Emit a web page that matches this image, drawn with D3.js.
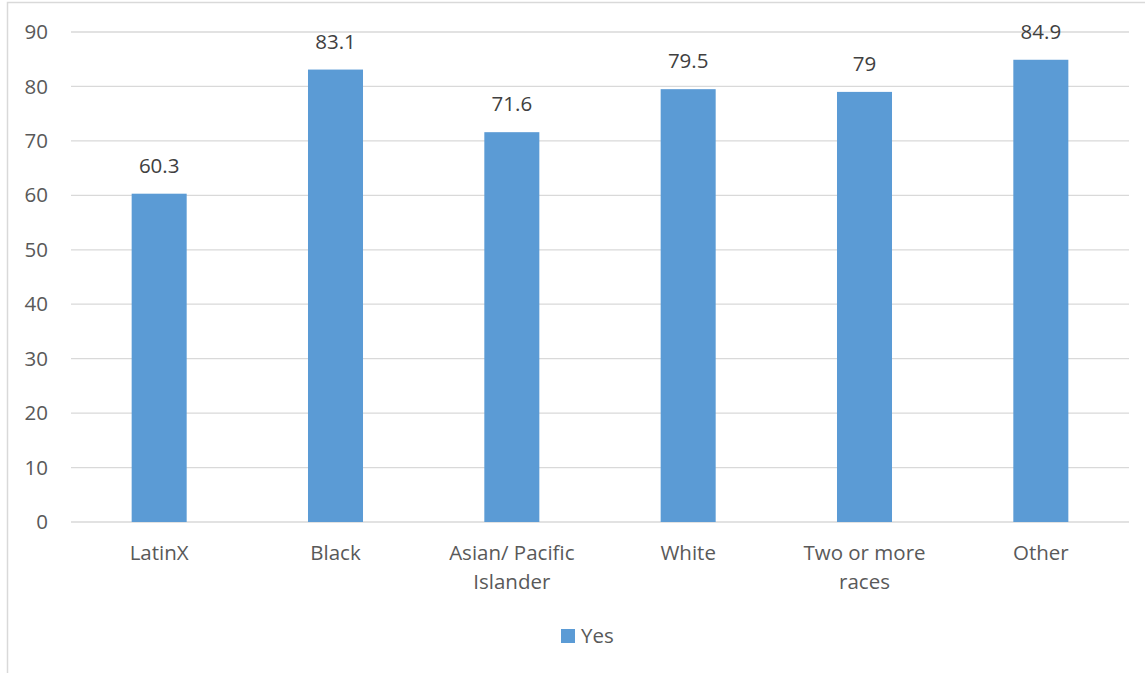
<!DOCTYPE html>
<html><head><meta charset="utf-8">
<script src="https://cdn.jsdelivr.net/npm/d3@7"></script>
<style>body{margin:0;background:#fff;}svg{display:block;font-family:"Open Sans",sans-serif;}</style>
</head><body><svg id="c" width="1145" height="673"></svg>
<script>
const categories = [["LatinX"],["Black"],["Asian/ Pacific","Islander"],["White"],["Two or more","races"],["Other"]];
const values = [60.3, 83.1, 71.6, 79.5, 79, 84.9];
const yTicks = [0,10,20,30,40,50,60,70,80,90];
const seriesName = "Yes";

(function(){
const svg = d3.select("#c");
const W=1145,H=673, fs=20.5;
svg.append("rect").attr("x",7.5).attr("y",2.5).attr("width",W+10).attr("height",H+10).attr("fill","#fff").attr("stroke","#d9d9d9").attr("stroke-width",1.5);

const pl=71,pr=1129,pt=32,pb=522;
const x = d3.scaleBand().domain(d3.range(categories.length)).range([pl,pr]).paddingInner(0.688).paddingOuter(0.344);
const y = d3.scaleLinear().domain([0,90]).range([pb,pt]);

svg.append("g").selectAll("line").data(yTicks).join("line")
 .attr("x1",pl).attr("x2",pr).attr("y1",d=>y(d)).attr("y2",d=>y(d))
 .attr("stroke","#d9d9d9").attr("stroke-width",1.3);

const yAxis = d3.axisLeft(y).tickValues(yTicks).tickSize(0).tickPadding(23);
const ga = svg.append("g").attr("transform",`translate(${pl},0)`).call(yAxis);
ga.select(".domain").remove();
ga.selectAll("text").attr("font-size",fs).attr("fill","#595959").attr("font-family","Open Sans");

svg.append("g").selectAll("rect").data(values).join("rect")
 .attr("x",(d,i)=>x(i)).attr("width",x.bandwidth())
 .attr("y",d=>y(d)).attr("height",d=>y(0)-y(d)).attr("fill","#5b9bd5");

svg.append("g").selectAll("text").data(values).join("text")
 .attr("x",(d,i)=>x(i)+x.bandwidth()/2).attr("y",d=>y(d)-21)
 .attr("text-anchor","middle").attr("font-size",fs).attr("fill","#404040").text(d=>d);

const xl = svg.append("g");
categories.forEach((lines,i)=>{
  const t = xl.append("text").attr("text-anchor","middle").attr("font-size",fs).attr("fill","#595959");
  lines.forEach((s,j)=>t.append("tspan").attr("x",x(i)+x.bandwidth()/2).attr("y",560+j*29).text(s));
});

svg.append("rect").attr("x",561).attr("y",629).attr("width",14).attr("height",14).attr("fill","#5b9bd5");
svg.append("text").attr("x",581).attr("y",643).attr("font-size",fs).attr("fill","#595959").text(seriesName);
})();
</script></body></html>
